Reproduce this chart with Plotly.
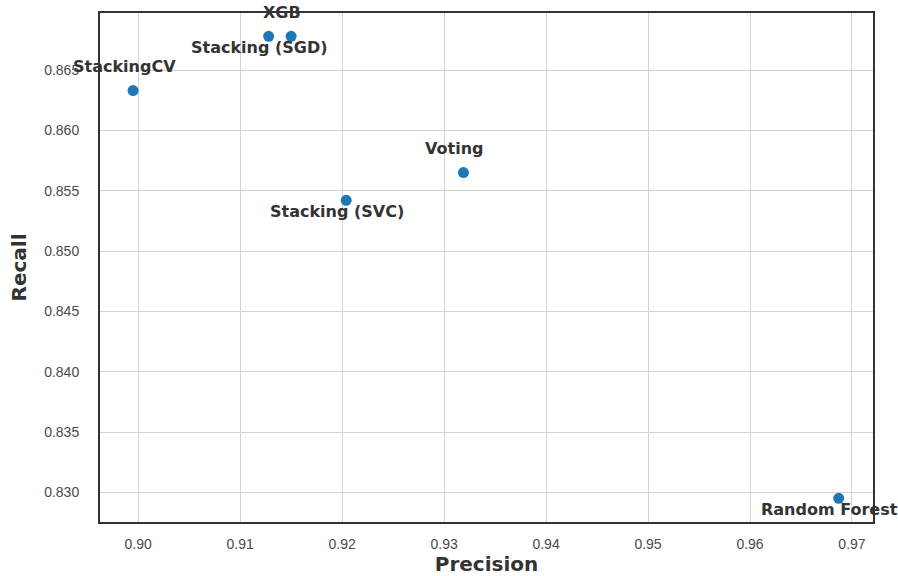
import plotly.graph_objects as go

# Model comparison: precision vs recall
models = ["XGB", "Stacking (SGD)", "StackingCV", "Voting", "Stacking (SVC)", "Random Forest"]
precision = [0.9150, 0.9128, 0.8995, 0.9319, 0.9204, 0.9687]
recall = [0.8678, 0.8678, 0.8633, 0.8565, 0.8542, 0.8295]

x_ticks = [0.90, 0.91, 0.92, 0.93, 0.94, 0.95, 0.96, 0.97]
y_ticks = [0.830, 0.835, 0.840, 0.845, 0.850, 0.855, 0.860, 0.865]

# whether each label sits above (+1) or below (-1) its marker
label_side = {"XGB": 1, "Stacking (SGD)": -1, "StackingCV": 1,
              "Voting": 1, "Stacking (SVC)": -1, "Random Forest": -1}

FONT = "DejaVu Sans, Verdana, sans-serif"
TICK_FONT = "Liberation Sans, Arial, sans-serif"

fig = go.Figure()
fig.add_trace(go.Scatter(
    x=precision, y=recall, mode="markers",
    marker=dict(color="#1f77b4", size=11),
    showlegend=False, cliponaxis=False,
))

for name, px, ry in zip(models, precision, recall):
    side = label_side[name]
    fig.add_annotation(
        x=px, y=ry, xref="x", yref="y", text=f"<b>{name}</b>",
        showarrow=False, xanchor="center", yanchor="middle",
        xshift=-9, yshift=24 if side > 0 else -11,
        font=dict(family=FONT, size=16, color="#333333"),
    )

axis_common = dict(
    showgrid=True, gridcolor="#d4d4d4", gridwidth=1,
    showline=True, linecolor="#333333", linewidth=2, mirror=True,
    zeroline=False, ticks="outside", tickcolor="rgba(0,0,0,0)",
    tickfont=dict(family=TICK_FONT, size=14, color="#4a4a4a"),
)

fig.update_xaxes(
    range=[0.89626, 0.97206], tickvals=x_ticks, ticklen=8,
    ticktext=[f"{v:.2f}" for v in x_ticks],
    title=dict(text="<b>Precision</b>", standoff=10,
               font=dict(family=FONT, size=20, color="#333333")),
    **axis_common,
)
fig.update_yaxes(
    range=[0.82754, 0.86973], tickvals=y_ticks, ticklen=16,
    ticktext=[f"{v:.3f}" for v in y_ticks],
    title=dict(text="<b>Recall</b>", standoff=12,
               font=dict(family=FONT, size=20, color="#333333")),
    **axis_common,
)

fig.update_layout(
    width=898, height=576,
    margin=dict(l=100, r=25, t=13, b=54, autoexpand=False),
    paper_bgcolor="white", plot_bgcolor="white",
)

fig.write_html("out.html")
